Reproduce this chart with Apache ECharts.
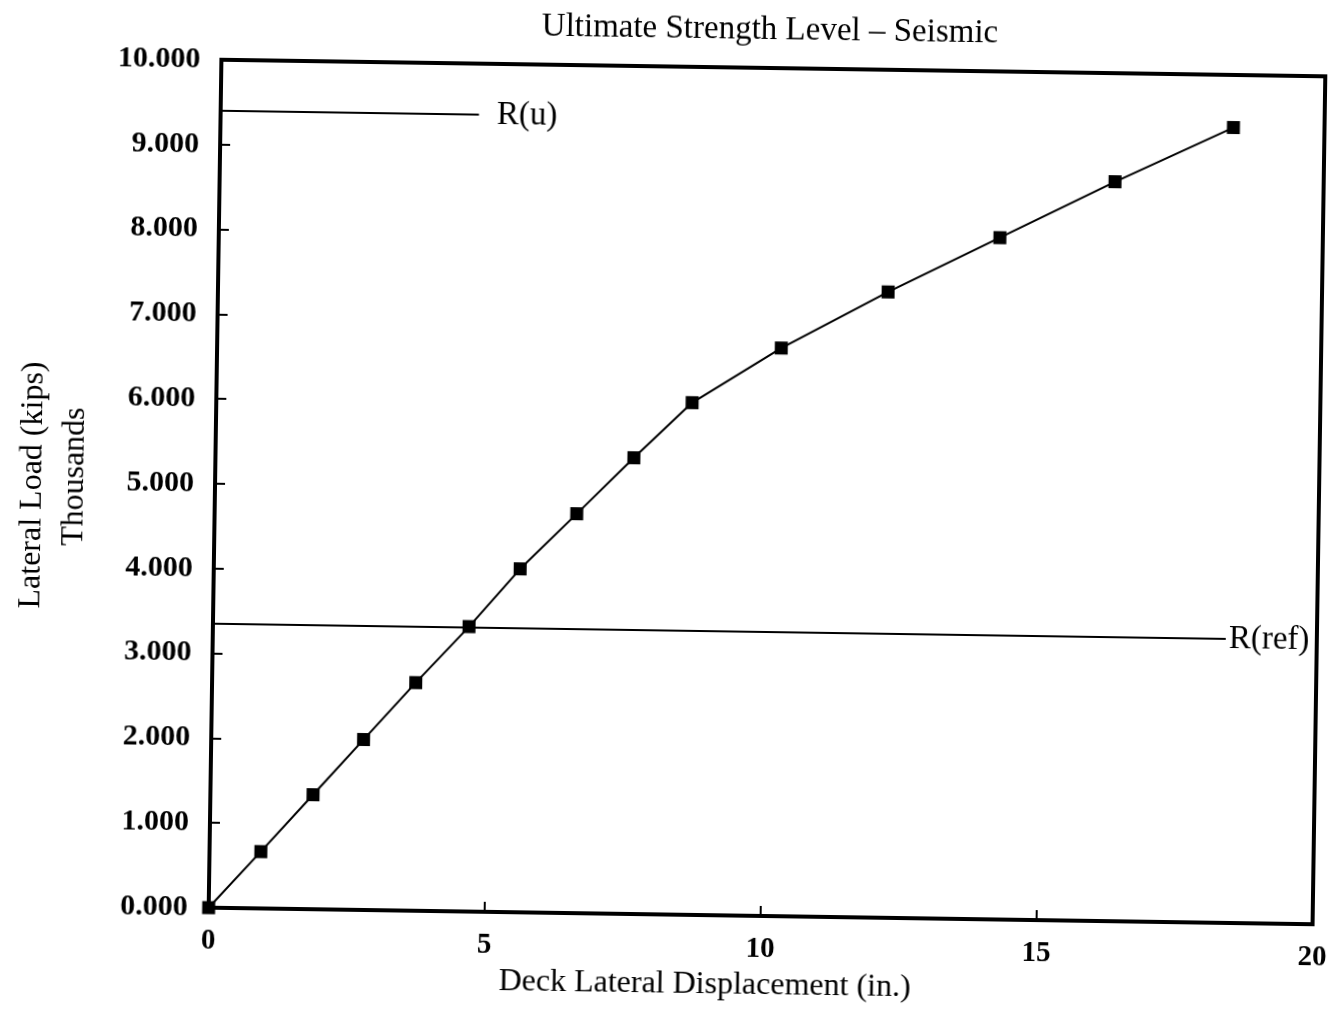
<!DOCTYPE html>
<html>
<head>
<meta charset="utf-8">
<script src="https://cdn.jsdelivr.net/npm/echarts@6/dist/echarts.min.js"></script>
<style>
html,body{margin:0;padding:0;background:#fff;overflow:hidden;}
#wrap{width:1344px;height:1010px;transform:rotate(0.86deg);transform-origin:767px 491px;}
#chart{width:1344px;height:1010px;}
</style>
</head>
<body>
<div id="wrap"><div id="chart"></div></div>
<script>
// Deck lateral displacement (in.) and lateral load (kips, thousands)
const dispX = [0, 0.93, 1.86, 2.76, 3.69, 4.64, 5.55, 6.56, 7.58, 8.62, 10.22, 12.14, 14.15, 16.22, 18.35];
const loadK = [0, 0.67, 1.35, 2.01, 2.69, 3.36, 4.05, 4.71, 5.38, 6.04, 6.70, 7.38, 8.04, 8.72, 9.38];
// Reference levels
const ruX = [0, 4.68];
const ruLevel = 9.40;
const refX = [0, 18.35];
const refLevel = 3.35;
const xTicks = [0, 5, 10, 15, 20];
const yTicks = [0, 1, 2, 3, 4, 5, 6, 7, 8, 9, 10];

const FONT = "'Liberation Serif','DejaVu Serif',serif";
const chart = echarts.init(document.getElementById('chart'), null, {renderer: 'canvas'});

const mainData = dispX.map((x, i) => [x, loadK[i]]);
const ruData = ruX.map(x => [x, ruLevel]);
const refData = refX.map(x => [x, refLevel]);

chart.setOption({
  animation: false,
  backgroundColor: '#ffffff',
  grid: {left: 215, top: 68, width: 1104, height: 848, show: true, borderColor: '#000', borderWidth: 4, backgroundColor: 'transparent'},
  xAxis: {
    type: 'value', min: xTicks[0], max: xTicks[xTicks.length - 1], interval: 5,
    axisLine: {show: true, onZero: false, lineStyle: {color: '#000', width: 4}},
    axisTick: {show: true, inside: true, length: 10, lineStyle: {color: '#000', width: 2}},
    splitLine: {show: false},
    axisLabel: {color: '#000', fontFamily: FONT, fontSize: 29, fontWeight: 'bold', margin: 19}
  },
  yAxis: {
    type: 'value', min: yTicks[0], max: yTicks[yTicks.length - 1], interval: 1,
    axisLine: {show: true, onZero: false, lineStyle: {color: '#000', width: 4}},
    axisTick: {show: true, inside: true, length: 10, lineStyle: {color: '#000', width: 2}},
    splitLine: {show: false},
    axisLabel: {color: '#000', fontFamily: FONT, fontSize: 30, fontWeight: 'bold', margin: 21,
      formatter: v => v.toFixed(3)}
  },
  series: [
    {
      type: 'line', data: mainData, symbol: 'rect', symbolSize: 13,
      itemStyle: {color: '#000'}, lineStyle: {color: '#000', width: 2}, z: 5
    },
    {
      type: 'line', data: ruData, symbol: 'none', lineStyle: {color: '#000', width: 2},
      endLabel: {show: true, formatter: 'R(u)', color: '#000', fontFamily: FONT, fontSize: 33, distance: 18}
    },
    {
      type: 'line', data: refData, symbol: 'none', lineStyle: {color: '#000', width: 2},
      endLabel: {show: true, formatter: 'R(ref)', color: '#000', fontFamily: FONT, fontSize: 33, distance: 3}
    }
  ],
  graphic: [
    {type: 'text', x: 763, y: 30, style: {text: 'Ultimate Strength Level \u2013 Seismic', fill: '#000', font: '33px ' + FONT, textAlign: 'center', textVerticalAlign: 'middle'}},
    {type: 'text', x: 712, y: 986, style: {text: 'Deck Lateral Displacement (in.)', fill: '#000', font: '32px ' + FONT, textAlign: 'center', textVerticalAlign: 'middle'}},
    {type: 'text', x: 33, y: 496, rotation: Math.PI / 2, style: {text: 'Lateral Load (kips)', fill: '#000', font: '32px ' + FONT, textAlign: 'center', textVerticalAlign: 'middle'}},
    {type: 'text', x: 75, y: 487, rotation: Math.PI / 2, style: {text: 'Thousands', fill: '#000', font: '32px ' + FONT, textAlign: 'center', textVerticalAlign: 'middle'}}
  ]
});
</script>
</body>
</html>
